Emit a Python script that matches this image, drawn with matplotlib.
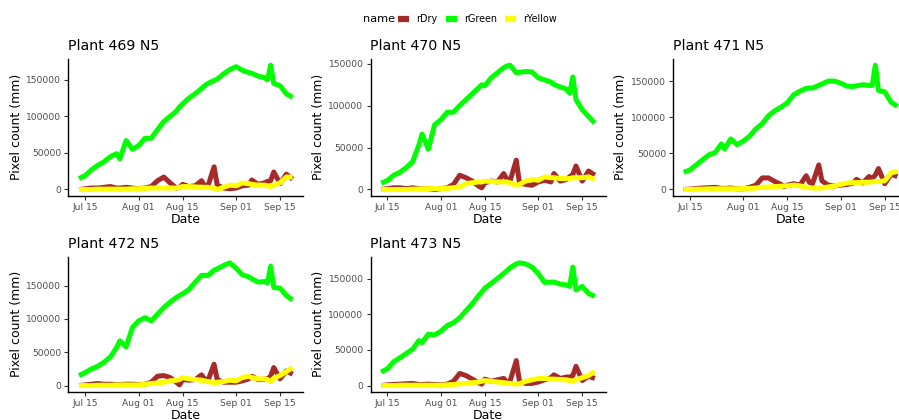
import matplotlib
matplotlib.use("Agg")
import matplotlib.pyplot as plt
import matplotlib.dates as mdates
from matplotlib.ticker import MultipleLocator, FuncFormatter
from matplotlib.lines import Line2D
import numpy as np

# Imaging dates shared by all plants
dates = ["2019-07-13", "2019-07-15", "2019-07-17", "2019-07-19", "2019-07-21",
         "2019-07-23", "2019-07-25", "2019-07-26", "2019-07-28", "2019-07-30",
         "2019-08-01", "2019-08-03", "2019-08-05", "2019-08-07", "2019-08-09",
         "2019-08-11", "2019-08-13", "2019-08-14", "2019-08-15", "2019-08-17",
         "2019-08-19", "2019-08-21", "2019-08-22", "2019-08-23", "2019-08-25",
         "2019-08-26", "2019-08-28", "2019-08-30", "2019-09-01", "2019-09-03",
         "2019-09-05", "2019-09-06", "2019-09-08", "2019-09-10", "2019-09-11",
         "2019-09-12", "2019-09-13", "2019-09-15", "2019-09-17", "2019-09-19"]

plants = ["Plant 469 N5", "Plant 470 N5", "Plant 471 N5", "Plant 472 N5", "Plant 473 N5"]

green_469 = [15000, 19000, 27000, 33000, 38000, 45000, 49000, 42000, 67000, 55000,
             60000, 70000, 70000, 82000, 93000, 100000, 107000, 113000, 117000, 125000,
             131000, 138000, 142000, 145000, 149000, 151000, 158000, 164000, 168000, 163000,
             160000, 159000, 155000, 153000, 150000, 170000, 145000, 142000, 131000, 126000]
dry_469 = [0, 1000, 2000, 2000, 3000, 4000, 2000, 2000, 3000, 2000,
           1000, 2000, 4000, 12000, 17000, 9000, 2000, 3000, 7000, 4000,
           5000, 12000, 5000, 4000, 31000, 6000, 2000, 1000, 2000, 5000,
           6000, 13000, 7000, 9000, 11000, 12000, 24000, 8000, 21000, 14000]
yellow_469 = [0, 0, 0, 500, 500, 500, 500, 500, 500, 1000,
              1000, 1500, 2000, 2000, 2000, 2000, 2000, 3000, 4000, 4000,
              3500, 3000, 3000, 3000, 2000, 0, 3000, 6000, 5000, 9000,
              8000, 7000, 6000, 6000, 5000, 4000, 6000, 9000, 17000, 17000]

green_470 = [7500, 10700, 17000, 20600, 26000, 33000, 53000, 66000, 48000, 77000,
             83000, 92000, 92000, 100000, 107000, 114000, 121000, 124700, 123500, 133000,
             139000, 145000, 147000, 148000, 139000, 139500, 140500, 140000, 133000, 130500,
             128000, 125000, 122000, 119500, 114500, 134000, 107000, 95000, 87000, 79000]
dry_470 = [0, 1000, 2000, 2000, 1000, 2000, 1000, 1000, 1000, 0,
           1000, 2000, 6000, 17000, 14000, 10000, 4000, 2000, 8000, 10000,
           9000, 19000, 12000, 10000, 35000, 8000, 6000, 5000, 9000, 11000,
           9000, 19000, 10000, 12000, 15000, 18000, 28000, 10000, 22000, 17000]
yellow_470 = [0, 0, 0, 0, 0, 500, 500, 1000, 1000, 1000,
              1000, 1500, 2000, 3000, 7000, 8000, 9000, 9000, 10000, 9500,
              9000, 9000, 9000, 8000, 5000, 6000, 10000, 12000, 11000, 15000,
              14000, 14000, 13000, 13000, 13000, 14000, 14000, 14000, 15000, 12000]

green_471 = [23800, 27000, 34000, 41000, 48000, 51000, 63000, 56000, 70000, 62000,
             67000, 74000, 84000, 91000, 102000, 109000, 114000, 117000, 120000, 131000,
             136000, 140000, 140400, 140400, 144000, 146000, 150000, 150000, 147000, 143000,
             142500, 143500, 145000, 144000, 144000, 172000, 137000, 135000, 121000, 115000]
dry_471 = [0, 500, 1500, 2000, 2500, 3000, 1500, 1500, 2000, 1000,
           1000, 3000, 6000, 16000, 16000, 11000, 7000, 4000, 6000, 8000,
           6000, 19000, 10000, 8000, 34000, 12000, 6000, 5000, 6000, 7000,
           9000, 14000, 9000, 18000, 15000, 20000, 29000, 8000, 21000, 18000]
yellow_471 = [0, 0, 500, 500, 1000, 1000, 1000, 1000, 1000, 1000,
              1500, 1500, 2000, 3000, 3500, 4000, 4500, 5000, 5000, 6000,
              5000, 3000, 2500, 2000, 2000, 2000, 3500, 5000, 7000, 9000,
              9500, 9500, 10000, 10000, 10500, 11000, 11000, 12000, 23000, 25000]

green_472 = [15000, 19500, 25000, 29000, 35000, 43000, 57000, 67000, 58000, 87000,
             97000, 101800, 97000, 107000, 117000, 125000, 132000, 135000, 137500, 144000,
             155000, 165000, 165500, 164700, 173000, 175000, 180000, 184000, 176000, 166000,
             163000, 160000, 155000, 156000, 154000, 179000, 147000, 146000, 135000, 128000]
dry_472 = [0, 1000, 2000, 3000, 2000, 2000, 1500, 1500, 2000, 2000,
           1500, 2000, 5000, 14000, 15000, 12000, 5000, 1000, 9000, 8000,
           9000, 16000, 10000, 7000, 32000, 9000, 5000, 5000, 5000, 7000,
           10000, 14000, 9000, 9500, 10000, 14000, 27000, 10000, 22000, 17000]
yellow_472 = [0, 0, 0, 500, 500, 500, 1000, 1000, 1000, 1000,
              1000, 2000, 3000, 4000, 5000, 7000, 8000, 9000, 12000, 10000,
              9000, 8000, 7000, 6000, 4000, 5000, 6000, 8000, 7000, 12000,
              14000, 12000, 10000, 10000, 9000, 6000, 11000, 15000, 21000, 27000]

green_473 = [19000, 23500, 33500, 39000, 45000, 51000, 63000, 60000, 72000, 71000,
             76000, 84000, 88000, 95000, 105000, 114600, 126000, 131000, 136500, 143000,
             150000, 157000, 161000, 165000, 170500, 172000, 170500, 166000, 157000, 144500,
             145000, 145000, 142200, 141000, 139000, 166000, 134000, 139000, 129000, 125000]
dry_473 = [0, 1000, 1500, 2000, 2500, 3000, 1500, 1500, 2000, 1500,
           1000, 2000, 6000, 17000, 14000, 9000, 4000, 2000, 9000, 6000,
           8000, 10000, 5000, 6000, 35000, 6000, 3000, 3000, 5000, 8000,
           11000, 15000, 10000, 12000, 12000, 14000, 27000, 7000, 13000, 10000]
yellow_473 = [0, 0, 0, 500, 500, 500, 500, 500, 500, 500,
              500, 1000, 1500, 2500, 3000, 4000, 5000, 6000, 7000, 6000,
              5000, 4000, 3500, 3000, 2000, 2500, 6000, 8000, 10000, 10000,
              9000, 9000, 8500, 8000, 7000, 6000, 8000, 11000, 14000, 20000]

series_names = ["rDry", "rGreen", "rYellow"]
series_colors = ["#A52A2A", "#00FF00", "#FFFF00"]

plant_data = [
    (dry_469, green_469, yellow_469),
    (dry_470, green_470, yellow_470),
    (dry_471, green_471, yellow_471),
    (dry_472, green_472, yellow_472),
    (dry_473, green_473, yellow_473),
]

tick_dates = ["2019-07-15", "2019-08-01", "2019-08-15", "2019-09-01", "2019-09-15"]

x = np.array(dates, dtype="datetime64[D]").astype("O")
xt = np.array(tick_dates, dtype="datetime64[D]").astype("O")

W, H = 899, 420
fig = plt.figure(figsize=(W / 100, H / 100), dpi=100)
fig.patch.set_facecolor("white")

# panel geometry in pixels: (left, top, width, height)
col_left = [68.3, 370.5, 673.0]
row_top = [59.0, 256.7]
row_h = [136.7, 135.0]
panel_w = 235.0

fmt_int = FuncFormatter(lambda v, p: f"{int(round(v))}")

for i, (title, vals) in enumerate(zip(plants, plant_data)):
    r, c = divmod(i, 3)
    l, t, w, h = col_left[c], row_top[r], panel_w, row_h[r]
    ax = fig.add_axes([l / W, (H - t - h) / H, w / W, h / H])
    for name, col, v in zip(series_names, series_colors, vals):
        ax.plot(x, v, color=col, linewidth=3.6, solid_capstyle="butt",
                solid_joinstyle="round", label=name)
    ax.margins(x=0.05, y=0.05)
    ax.set_xticks(xt)
    ax.xaxis.set_major_formatter(mdates.DateFormatter("%b %d"))
    ax.yaxis.set_major_locator(MultipleLocator(50000))
    ax.yaxis.set_major_formatter(fmt_int)
    for s in ("top", "right"):
        ax.spines[s].set_visible(False)
    for s in ("left", "bottom"):
        ax.spines[s].set_linewidth(1.0)
        ax.spines[s].set_color("black")
    ax.tick_params(axis="both", length=3, width=0.8, color="#333333",
                   labelsize=6.6, labelcolor="#4D4D4D", pad=2)
    ax.set_xlabel("Date", fontsize=9, labelpad=1)
    ax.set_ylabel("Pixel count (mm)", fontsize=9, labelpad=2.5)
    ax.set_title(title, loc="left", fontsize=10.2, pad=6.5)

# legend across the top
handles = [Line2D([], [], color=col, linewidth=4.5, solid_capstyle="butt")
           for col in series_colors]
fig.text(362.7 / W, 1 - 19.5 / H, "name", fontsize=8.2, ha="left", va="center")
fig.legend(handles, series_names, ncol=3, loc="center left",
           bbox_to_anchor=(396 / W, 1 - 19.5 / H), frameon=False, fontsize=6.9,
           handlelength=1.15, handletextpad=0.8, columnspacing=0.8,
           borderpad=0.2, borderaxespad=0)

fig.savefig("out.png", dpi=100, facecolor="white")
